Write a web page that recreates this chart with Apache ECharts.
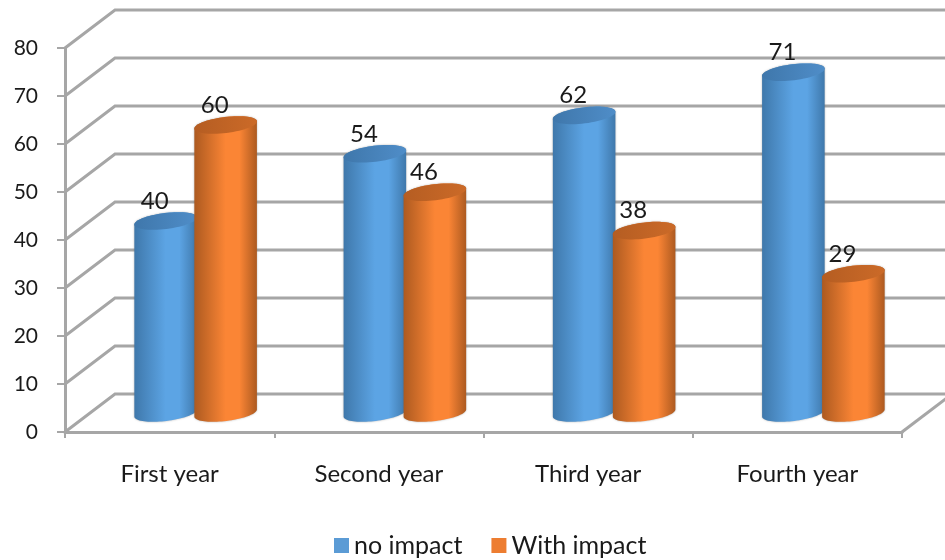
<!DOCTYPE html>
<html>
<head>
<meta charset="utf-8">
<style>html,body{margin:0;padding:0;background:#fff}#c{width:945px;height:560px}</style>
<script src="https://cdn.jsdelivr.net/npm/echarts@6/dist/echarts.min.js"></script>
</head>
<body>
<div id="c"></div>
<script>
const categories = ['First year', 'Second year', 'Third year', 'Fourth year'];
const noImpact = [40, 54, 62, 71];
const withImpact = [60, 46, 38, 29];
const wallTicks = [0, 10, 20, 30, 40, 50, 60, 70, 80];

const FONT = 'Lato, sans-serif';
const LINE = '#a6a6a6';
// Oblique projection of the chart's depth axis, in pixels
const DEPTH_X = 50, DEPTH_Y = -38;
const RX = 31.5, RY = 8, TILT = -7 * Math.PI / 180;

// Points along a tilted ellipse between two parametric angles
function arcPoints(cx, cy, from, to, n) {
  const pts = [];
  for (let i = 0; i <= n; i++) {
    const t = from + (to - from) * i / n;
    const ex = RX * Math.cos(t), ey = RY * Math.sin(t);
    pts.push([cx + ex * Math.cos(TILT) - ey * Math.sin(TILT),
              cy + ex * Math.sin(TILT) + ey * Math.cos(TILT)]);
  }
  return pts;
}

function cylinderSeries(name, values, shift, flat, edge, mid, capA, capB) {
  return {
    name, type: 'custom', z: 3, data: values.map((v, i) => [i, v]),
    itemStyle: { color: flat },
    encode: { x: 0, y: 1 },
    renderItem(params, api) {
      const i = api.value(0), v = api.value(1);
      const top = api.coord([i, v]), base = api.coord([i, 0]);
      const cx = top[0] + DEPTH_X / 2 + shift;
      const yTop = top[1] + DEPTH_Y / 2, yBase = base[1] + DEPTH_Y / 2;
      const lower = arcPoints(cx, yBase, Math.PI, 0, 40);
      const body = lower.concat(arcPoints(cx, yTop, 0, -Math.PI, 40));
      return {
        type: 'group',
        children: [
          {
            type: 'polygon', shape: { points: body },
            style: {
              fill: new echarts.graphic.LinearGradient(0, 0, 1, 0, [
                { offset: 0, color: edge }, { offset: 0.5, color: mid },
                { offset: 0.72, color: mid }, { offset: 1, color: edge }
              ]),
              shadowBlur: 2, shadowColor: 'rgba(90,90,90,0.5)'
            }
          },
          {
            type: 'polygon', shape: { points: arcPoints(cx, yTop, 0, 2 * Math.PI, 60) },
            style: {
              fill: new echarts.graphic.LinearGradient(0, 0, 1, 0, [
                { offset: 0, color: capA }, { offset: 1, color: capB }
              ])
            }
          },
          {
            type: 'text', z2: 10,
            style: {
              text: String(v), x: cx - 11, y: yTop - 20,
              align: 'center', verticalAlign: 'middle',
              font: '24px ' + FONT, fill: '#1a1a1a'
            }
          }
        ]
      };
    }
  };
}

const chart = echarts.init(document.getElementById('c'), null, { renderer: 'canvas' });
chart.setOption({
  animation: false,
  grid: { left: 65, right: 43, top: 48, bottom: 128, containLabel: false },
  legend: {
    data: ['no impact', 'With impact'], left: 334, top: 533, padding: 0,
    icon: 'rect', itemWidth: 15, itemHeight: 15, itemGap: 29,
    textStyle: { fontFamily: FONT, fontSize: 25, color: '#1a1a1a' }
  },
  xAxis: {
    type: 'category', data: categories,
    axisLine: { lineStyle: { color: LINE, width: 3 } },
    axisTick: { show: true, length: 6, lineStyle: { color: LINE, width: 2 } },
    axisLabel: { margin: 30, fontFamily: FONT, fontSize: 24, color: '#1a1a1a' }
  },
  yAxis: {
    type: 'value', min: 0, max: 80, interval: 10,
    splitLine: { show: false },
    axisLine: { show: true, lineStyle: { color: LINE, width: 3 } },
    axisTick: { show: true, length: 8, lineStyle: { color: LINE, width: 2 } },
    axisLabel: { margin: 27, fontFamily: FONT, fontSize: 21, color: '#1a1a1a' }
  },
  series: [
    {
      // Side wall diagonals and back wall lines, plus the floor's right edge
      type: 'custom', z: 1, silent: true, clip: false,
      data: wallTicks.map(v => [0, v]),
      encode: { x: 0, y: 1 },
      renderItem(params, api) {
        const cs = params.coordSys;
        const v = api.value(1);
        const y = api.coord([0, v])[1];
        const left = cs.x, right = cs.x + cs.width;
        const style = { stroke: LINE, lineWidth: 3, fill: null };
        const children = [{
          type: 'polyline', style,
          shape: { points: [[left, y], [left + DEPTH_X, y + DEPTH_Y], [right + DEPTH_X, y + DEPTH_Y]] }
        }];
        if (v === 0) {
          children.push({
            type: 'line', style,
            shape: { x1: right, y1: y, x2: right + DEPTH_X, y2: y + DEPTH_Y }
          });
        }
        return { type: 'group', children };
      }
    },
    cylinderSeries('no impact', noImpact, -29, '#5b9bd5', '#3f78ab', '#5ca4e4', '#3f77ab', '#4f8dc8'),
    cylinderSeries('With impact', withImpact, 31, '#ed7d31', '#ad5a20', '#fb8535', '#b55d22', '#cb6a28')
  ]
});
</script>
</body>
</html>
